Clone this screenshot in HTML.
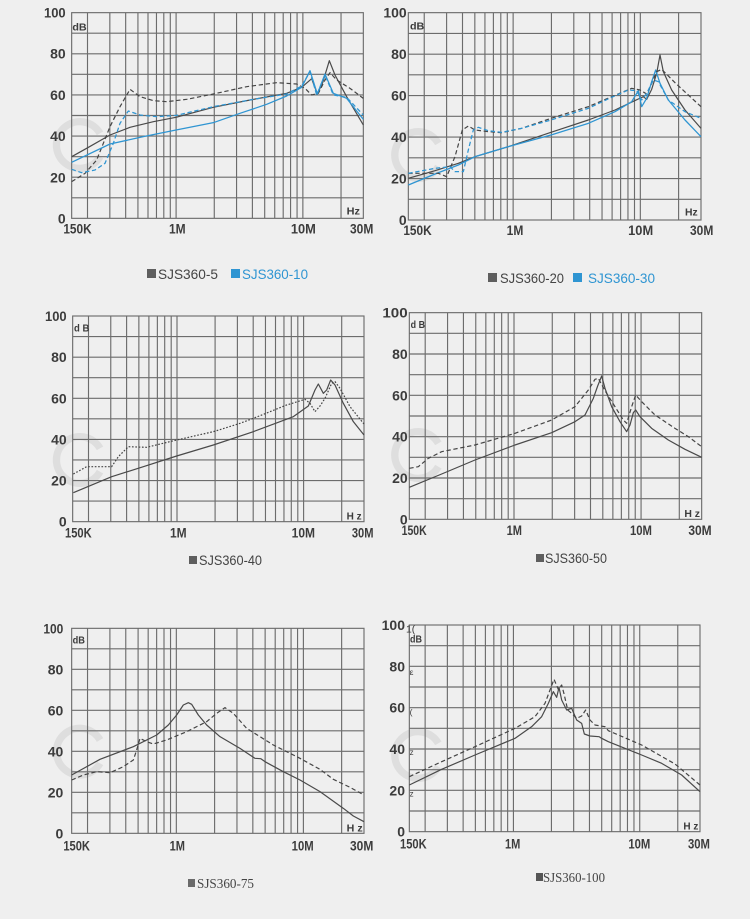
<!DOCTYPE html>
<html><head><meta charset="utf-8"><style>
html,body{margin:0;padding:0;background:#efefef;}
svg{display:block;}
.g{fill:none;stroke:#6c6c6c;stroke-width:3.4;}
.yl{font-family:"Liberation Sans",sans-serif;font-weight:bold;font-size:42px;fill:#3c3c3c;text-anchor:end;}
.xl{font-family:"Liberation Sans",sans-serif;font-weight:bold;font-size:42px;fill:#3c3c3c;}
.xm{text-anchor:middle;}
.u{font-family:"Liberation Sans",sans-serif;font-weight:bold;font-size:31px;fill:#3c3c3c;}
.s{fill:none;stroke:#4a4a4a;stroke-width:3.6;stroke-linejoin:round;}
.d{fill:none;stroke:#454545;stroke-width:3.6;stroke-dasharray:13 8;stroke-linejoin:round;}
.dt{fill:none;stroke:#454545;stroke-width:3.6;stroke-dasharray:5 5;}
.bs{fill:none;stroke:#2f95d2;stroke-width:3.8;stroke-linejoin:round;}
.bd{fill:none;stroke:#2f95d2;stroke-width:3.8;stroke-dasharray:13 8;stroke-linejoin:round;}
.wm{fill:none;stroke:#dadada;stroke-width:22;opacity:0.8;}
.lg{font-family:"Liberation Sans",sans-serif;font-size:14px;fill:#444;}
.lgs{font-family:"Liberation Serif",serif;font-size:14px;fill:#444;}
</style></head><body>
<svg width="750" height="919" viewBox="0 0 750 919" xmlns="http://www.w3.org/2000/svg">
<rect width="750" height="919" fill="#efefef"/>

<!-- Chart 1 -->
<g transform="translate(0,0) scale(0.333333)">
<path class="wm" d="M300,400 A70,70 0 1 0 300,470"/>
<path class="g" d="M262.5 38V655M329.5 38V655M377 38V655M413.8 38V655M444 38V655M469.4 38V655M491.4 38V655M510.9 38V655M528.3 38V655M642.8 38V655M709.7 38V655M757.2 38V655M794.1 38V655M824.2 38V655M849.6 38V655M871.7 38V655M891.2 38V655M908.6 38V655M1023.1 38V655M215 99.7H1090M215 161.4H1090M215 223.1H1090M215 284.8H1090M215 346.5H1090M215 408.2H1090M215 469.9H1090M215 531.6H1090M215 593.3H1090"/>
<rect class="g" x="215" y="38" width="875" height="617"/>
<text class="yl" x="197" y="53" textLength="65" lengthAdjust="spacingAndGlyphs">100</text>
<text class="yl" x="197" y="176">80</text>
<text class="yl" x="197" y="300">60</text>
<text class="yl" x="197" y="423">40</text>
<text class="yl" x="197" y="547">20</text>
<text class="yl" x="197" y="670">0</text>
<text class="xl" x="190" y="700" textLength="85" lengthAdjust="spacingAndGlyphs">150K</text>
<text class="xl xm" x="532" y="700" textLength="50" lengthAdjust="spacingAndGlyphs">1M</text>
<text class="xl xm" x="910" y="700" textLength="75" lengthAdjust="spacingAndGlyphs">10M</text>
<text class="xl xm" x="1085" y="700" textLength="70" lengthAdjust="spacingAndGlyphs">30M</text>
<text class="u" x="217" y="91" textLength="43" lengthAdjust="spacingAndGlyphs">dB</text>
<text class="u" x="1040" y="643" textLength="40" lengthAdjust="spacingAndGlyphs">Hz</text>
<path class="s" d="M215,470 L260,445 L330,405 L390,382 L460,365 L528,352 L640,322 L750,300 L860,280 L905,262 L935,236 L952,282 L968,248 L988,182 L1005,225 L1040,290 L1090,375"/>
<path class="d" d="M215,545 L255,520 L290,480 L330,380 L360,320 L390,268 L420,290 L460,302 L500,305 L560,298 L640,282 L740,260 L830,248 L890,252 L915,265 L935,285 L955,280 L975,240 L990,218 L1010,240 L1050,265 L1090,295"/>
<path class="bs" d="M215,487 L330,432 L430,410 L528,390 L640,368 L720,340 L800,313 L860,288 L905,262 L930,212 L952,282 L975,222 L1000,280 L1040,295 L1090,358"/>
<path class="bd" d="M215,508 L245,518 L285,510 L315,490 L340,430 L360,370 L385,333 L420,345 L470,350 L530,346 L640,320 L760,298 L860,282 L905,258 L930,215 L950,285 L975,225 L1000,285 L1040,292 L1090,345"/>
</g>
<rect x="147" y="269" width="9" height="9" fill="#5e5e5e"/>
<text class="lg" x="158" y="279" textLength="60" lengthAdjust="spacingAndGlyphs">SJS360-5</text>
<rect x="231" y="269" width="9" height="9" fill="#2f95d2"/>
<text class="lg" x="242" y="279" fill="#2f95d2" style="fill:#2f95d2" textLength="66" lengthAdjust="spacingAndGlyphs">SJS360-10</text>

<!-- Chart 2 -->
<g transform="translate(375,0) scale(0.333333)">
<path class="wm" d="M190,430 A70,70 0 1 0 190,500"/>
<path class="g" d="M147.7 38V660M214.8 38V660M262.5 38V660M299.5 38V660M329.8 38V660M355.2 38V660M377.4 38V660M396.9 38V660M414.4 38V660M529.3 38V660M596.4 38V660M644.1 38V660M681.1 38V660M711.3 38V660M736.8 38V660M758.9 38V660M778.5 38V660M796 38V660M910.8 38V660M100 100.2H978M100 162.4H978M100 224.6H978M100 286.8H978M100 349H978M100 411.2H978M100 473.4H978M100 535.6H978M100 597.8H978"/>
<rect class="g" x="100" y="38" width="878" height="622"/>
<text class="yl" x="95" y="53" textLength="70" lengthAdjust="spacingAndGlyphs">100</text>
<text class="yl" x="95" y="177">80</text>
<text class="yl" x="95" y="302">60</text>
<text class="yl" x="95" y="426">40</text>
<text class="yl" x="95" y="551">20</text>
<text class="yl" x="95" y="675">0</text>
<text class="xl" x="85" y="705" textLength="85" lengthAdjust="spacingAndGlyphs">150K</text>
<text class="xl xm" x="420" y="705" textLength="50" lengthAdjust="spacingAndGlyphs">1M</text>
<text class="xl xm" x="797" y="705" textLength="75" lengthAdjust="spacingAndGlyphs">10M</text>
<text class="xl xm" x="980" y="705" textLength="70" lengthAdjust="spacingAndGlyphs">30M</text>
<text class="u" x="105" y="88" textLength="43" lengthAdjust="spacingAndGlyphs">dB</text>
<text class="u" x="930" y="646" textLength="38" lengthAdjust="spacingAndGlyphs">Hz</text>
<path class="s" d="M100,535 L180,512 L250,490 L300,470 L400,440 L528,397 L640,360 L720,330 L790,297 L805,290 L815,298 L830,268 L845,220 L855,165 L865,215 L890,270 L930,330 L978,385"/>
<path class="bs" d="M100,555 L180,522 L250,495 L300,470 L400,440 L528,405 L640,370 L720,335 L770,305 L790,272 L800,320 L815,295 L830,245 L842,210 L855,250 L880,300 L930,360 L978,410"/>
<path class="d" d="M100,520 L190,520 L215,530 L240,470 L262,390 L280,378 L300,390 L340,395 L380,398 L440,385 L528,355 L640,320 L710,290 L770,265 L795,270 L815,282 L830,250 L845,215 L860,208 L900,248 L940,285 L978,320"/>
<path class="bd" d="M100,520 L180,505 L225,500 L240,515 L265,515 L280,450 L295,390 L310,382 L340,392 L380,397 L440,385 L528,360 L640,325 L710,292 L760,270 L785,272 L800,300 L815,280 L835,240 L850,245 L880,300 L930,335 L978,355"/>
</g>
<rect x="488" y="273" width="9" height="9" fill="#5e5e5e"/>
<text class="lg" x="500" y="283" textLength="64" lengthAdjust="spacingAndGlyphs">SJS360-20</text>
<rect x="573" y="273" width="9" height="9" fill="#2f95d2"/>
<text class="lg" x="588" y="283" style="fill:#2f95d2" textLength="67" lengthAdjust="spacingAndGlyphs">SJS360-30</text>

<!-- Chart 3 -->
<g transform="translate(0,300) scale(0.333333)">
<path class="wm" d="M300,445 A70,70 0 1 0 300,515"/>
<path class="g" d="M265.5 48V665M332.3 48V665M379.8 48V665M416.6 48V665M446.7 48V665M472.1 48V665M494.1 48V665M513.6 48V665M531 48V665M645.3 48V665M712.2 48V665M759.6 48V665M796.4 48V665M826.5 48V665M851.9 48V665M873.9 48V665M893.4 48V665M910.8 48V665M1025.1 48V665M218 109.7H1092M218 171.4H1092M218 233.1H1092M218 294.8H1092M218 356.5H1092M218 418.2H1092M218 479.9H1092M218 541.6H1092M218 603.3H1092"/>
<rect class="g" x="218" y="48" width="874" height="617"/>
<text class="yl" x="200" y="63" textLength="65" lengthAdjust="spacingAndGlyphs">100</text>
<text class="yl" x="200" y="186">80</text>
<text class="yl" x="200" y="310">60</text>
<text class="yl" x="200" y="433">40</text>
<text class="yl" x="200" y="557">20</text>
<text class="yl" x="200" y="680">0</text>
<text class="xl" x="195" y="712" textLength="80" lengthAdjust="spacingAndGlyphs">150K</text>
<text class="xl xm" x="535" y="712" textLength="50" lengthAdjust="spacingAndGlyphs">1M</text>
<text class="xl xm" x="910" y="712" textLength="70" lengthAdjust="spacingAndGlyphs">10M</text>
<text class="xl xm" x="1088" y="712" textLength="65" lengthAdjust="spacingAndGlyphs">30M</text>
<text class="u" x="222" y="94" textLength="46" lengthAdjust="spacingAndGlyphs">d B</text>
<text class="u" x="1040" y="659" textLength="45" lengthAdjust="spacingAndGlyphs">H z</text>
<path class="s" d="M220,578 L335,530 L430,500 L530,468 L640,435 L760,395 L880,350 L925,318 L945,270 L955,252 L970,280 L980,270 L992,240 L1005,255 L1030,310 L1060,365 L1092,405"/>
<path class="dt" d="M220,522 L260,500 L335,500 L355,470 L385,440 L440,442 L530,420 L640,395 L720,370 L760,355 L860,315 L915,298 L930,310 L945,335 L960,318 L975,295 L995,250 L1005,245 L1020,265 L1050,320 L1092,372"/>
</g>
<rect x="189" y="556" width="8" height="8" fill="#5e5e5e"/>
<text class="lg" x="199" y="565" textLength="63" lengthAdjust="spacingAndGlyphs">SJS360-40</text>

<!-- Chart 4 -->
<g transform="translate(375,300) scale(0.333333)">
<path class="wm" d="M190,430 A70,70 0 1 0 190,500"/>
<path class="g" d="M150.6 38V658M217.7 38V658M265.3 38V658M302.3 38V658M332.5 38V658M357.9 38V658M380 38V658M399.6 38V658M417 38V658M531.8 38V658M598.9 38V658M646.5 38V658M683.4 38V658M713.6 38V658M739.1 38V658M761.2 38V658M780.7 38V658M798.2 38V658M912.9 38V658M103 100H980M103 162H980M103 224H980M103 286H980M103 348H980M103 410H980M103 472H980M103 534H980M103 596H980"/>
<rect class="g" x="103" y="38" width="877" height="620"/>
<text class="yl" x="98" y="53" textLength="76" lengthAdjust="spacingAndGlyphs">100</text>
<text class="yl" x="98" y="177">80</text>
<text class="yl" x="98" y="301">60</text>
<text class="yl" x="98" y="425">40</text>
<text class="yl" x="98" y="549">20</text>
<text class="yl" x="98" y="673">0</text>
<text class="xl" x="80" y="705" textLength="75" lengthAdjust="spacingAndGlyphs">150K</text>
<text class="xl xm" x="418" y="705" textLength="46" lengthAdjust="spacingAndGlyphs">1M</text>
<text class="xl xm" x="798" y="705" textLength="66" lengthAdjust="spacingAndGlyphs">10M</text>
<text class="xl xm" x="975" y="705" textLength="70" lengthAdjust="spacingAndGlyphs">30M</text>
<text class="u" x="107" y="84" textLength="43" lengthAdjust="spacingAndGlyphs">d B</text>
<text class="u" x="928" y="651" textLength="47" lengthAdjust="spacingAndGlyphs">H z</text>
<path class="s" d="M103,562 L200,522 L300,480 L420,435 L530,398 L600,365 L630,345 L655,295 L668,258 L680,228 L690,265 L710,320 L735,365 L755,395 L765,375 L775,338 L782,330 L795,350 L830,385 L880,420 L930,448 L980,472"/>
<path class="d" d="M103,505 L130,500 L160,475 L200,455 L300,435 L420,400 L530,360 L600,320 L640,270 L660,238 L670,235 L690,272 L720,320 L745,360 L755,370 L770,320 L782,285 L800,305 L840,345 L900,385 L940,410 L980,440"/>
</g>
<rect x="536" y="554" width="8" height="8" fill="#5e5e5e"/>
<text class="lg" x="545" y="563" textLength="62" lengthAdjust="spacingAndGlyphs">SJS360-50</text>

<!-- Chart 5 -->
<g transform="translate(0,610) scale(0.333333)">
<path class="wm" d="M300,390 A70,70 0 1 0 300,460"/>
<path class="g" d="M262.6 55V670M329.7 55V670M377.3 55V670M414.3 55V670M444.5 55V670M469.9 55V670M492 55V670M511.6 55V670M529 55V670M643.8 55V670M710.9 55V670M758.5 55V670M795.4 55V670M825.6 55V670M851.1 55V670M873.2 55V670M892.7 55V670M910.2 55V670M1024.9 55V670M215 116.5H1092M215 178H1092M215 239.5H1092M215 301H1092M215 362.5H1092M215 424H1092M215 485.5H1092M215 547H1092M215 608.5H1092"/>
<rect class="g" x="215" y="55" width="877" height="615"/>
<text class="yl" x="190" y="70" textLength="60" lengthAdjust="spacingAndGlyphs">100</text>
<text class="yl" x="190" y="193">80</text>
<text class="yl" x="190" y="316">60</text>
<text class="yl" x="190" y="439">40</text>
<text class="yl" x="190" y="562">20</text>
<text class="yl" x="190" y="685">0</text>
<text class="xl" x="190" y="722" textLength="80" lengthAdjust="spacingAndGlyphs">150K</text>
<text class="xl xm" x="532" y="722" textLength="46" lengthAdjust="spacingAndGlyphs">1M</text>
<text class="xl xm" x="908" y="722" textLength="66" lengthAdjust="spacingAndGlyphs">10M</text>
<text class="xl xm" x="1085" y="722" textLength="70" lengthAdjust="spacingAndGlyphs">30M</text>
<text class="u" x="218" y="101" textLength="37" lengthAdjust="spacingAndGlyphs">dB</text>
<text class="u" x="1040" y="664" textLength="48" lengthAdjust="spacingAndGlyphs">H z</text>
<path class="s" d="M215,495 L300,448 L400,410 L470,375 L505,345 L530,315 L550,285 L565,278 L575,283 L595,315 L620,345 L660,380 L720,415 L765,445 L782,446 L795,455 L850,485 L900,510 L960,545 L1030,595 L1060,618 L1092,635"/>
<path class="d" d="M215,510 L250,495 L290,485 L330,488 L370,470 L400,450 L410,420 L420,385 L440,395 L460,402 L500,390 L560,365 L620,335 L650,310 L675,293 L700,310 L740,355 L820,405 L900,445 L960,478 L1000,508 L1050,532 L1092,555"/>
</g>
<rect x="188" y="879" width="7" height="8" fill="#6a6a6a"/>
<text class="lgs" x="197" y="888" textLength="57" lengthAdjust="spacingAndGlyphs">SJS360-75</text>

<!-- Chart 6 -->
<g transform="translate(375,610) scale(0.333333)">
<path class="wm" d="M190,400 A70,70 0 1 0 190,470"/>
<path class="g" d="M150.4 45V665M217.1 45V665M264.4 45V665M301.1 45V665M331.2 45V665M356.5 45V665M378.5 45V665M397.9 45V665M415.3 45V665M529.3 45V665M596 45V665M643.4 45V665M680.1 45V665M710.1 45V665M735.5 45V665M757.4 45V665M776.9 45V665M794.2 45V665M908.3 45V665M103 107H975M103 169H975M103 231H975M103 293H975M103 355H975M103 417H975M103 479H975M103 541H975M103 603H975"/>
<rect class="g" x="103" y="45" width="872" height="620"/>
<text class="yl" x="90" y="60" textLength="70" lengthAdjust="spacingAndGlyphs">100</text>
<text class="yl" x="90" y="184">80</text>
<text class="yl" x="90" y="308">60</text>
<text class="yl" x="90" y="432">40</text>
<text class="yl" x="90" y="556">20</text>
<text class="yl" x="90" y="680">0</text>
<text class="u" x="93" y="68" style="font-weight:normal">1(</text>
<text class="u" x="104" y="195" style="font-weight:normal;font-size:26px">ε</text>
<text class="u" x="104" y="315" style="font-weight:normal;font-size:26px">(</text>
<text class="u" x="104" y="435" style="font-weight:normal;font-size:24px">z</text>
<text class="u" x="104" y="560" style="font-weight:normal;font-size:24px">z</text>
<text class="xl" x="75" y="715" textLength="80" lengthAdjust="spacingAndGlyphs">150K</text>
<text class="xl xm" x="413" y="715" textLength="46" lengthAdjust="spacingAndGlyphs">1M</text>
<text class="xl xm" x="793" y="715" textLength="66" lengthAdjust="spacingAndGlyphs">10M</text>
<text class="xl xm" x="972" y="715" textLength="66" lengthAdjust="spacingAndGlyphs">30M</text>
<text class="u" x="105" y="97" textLength="36" lengthAdjust="spacingAndGlyphs">dB</text>
<text class="u" x="925" y="659" textLength="45" lengthAdjust="spacingAndGlyphs">H z</text>
<path class="s" d="M103,525 L200,478 L300,435 L420,385 L470,350 L500,320 L520,280 L535,245 L545,262 L552,232 L560,270 L575,300 L590,295 L605,330 L620,340 L628,372 L645,378 L672,380 L680,385 L700,395 L800,435 L860,460 L920,495 L975,545"/>
<path class="d" d="M103,500 L200,455 L300,410 L420,355 L480,320 L510,280 L525,240 L537,208 L550,238 L560,225 L568,255 L578,300 L590,310 L605,325 L620,318 L632,300 L645,330 L660,345 L690,350 L700,362 L800,405 L900,462 L975,525"/>
</g>
<rect x="536" y="873" width="7" height="8" fill="#555"/>
<text class="lgs" x="543" y="882" textLength="62" lengthAdjust="spacingAndGlyphs">SJS360-100</text>
</svg>
</body></html>
